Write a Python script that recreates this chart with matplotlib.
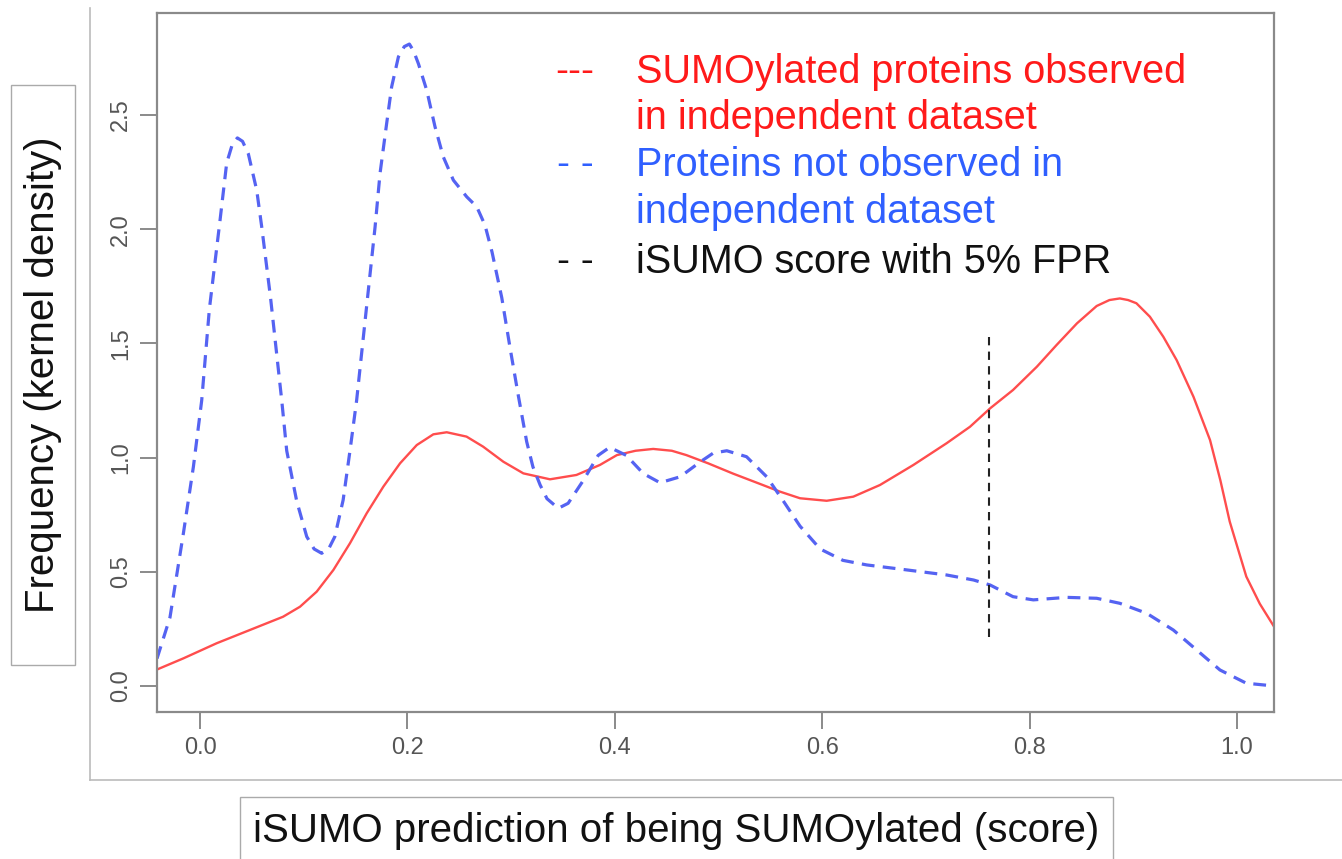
import matplotlib
matplotlib.use("Agg")
from matplotlib import pyplot as plt
from matplotlib.lines import Line2D
from matplotlib.patches import Rectangle

# density curves (score, density)
not_obs_x = [-0.0415, -0.029, -0.016, -0.0064, 0.0016, 0.009, 0.0193, 0.0257, 0.031, 0.036,
             0.041, 0.0466, 0.0547, 0.0595, 0.068, 0.0788, 0.0836, 0.0932, 0.1029, 0.110,
             0.1173, 0.124, 0.130, 0.138, 0.1446, 0.151, 0.162, 0.1688, 0.1736, 0.180,
             0.1848, 0.1913, 0.197, 0.2019, 0.206, 0.2106, 0.2186, 0.2266, 0.2346, 0.2443,
             0.2572, 0.2668, 0.2748, 0.2816, 0.291, 0.299, 0.307, 0.315, 0.321, 0.328,
             0.3346, 0.3455, 0.355, 0.3696, 0.384, 0.395, 0.411, 0.4275, 0.4436, 0.463,
             0.482, 0.495, 0.508, 0.527, 0.5465, 0.5625, 0.5786, 0.598, 0.62, 0.643,
             0.675, 0.72, 0.746, 0.762, 0.784, 0.8036, 0.8357, 0.8647, 0.887, 0.913,
             0.9386, 0.961, 0.9836, 1.009, 1.0357]
not_obs_y = [0.12, 0.30, 0.67, 0.96, 1.25, 1.65, 2.04, 2.29, 2.37, 2.40,
             2.385, 2.33, 2.17, 2.01, 1.70, 1.25, 1.03, 0.81, 0.654, 0.60,
             0.581, 0.60, 0.654, 0.814, 1.03, 1.25, 1.72, 2.01, 2.245, 2.464,
             2.624, 2.755, 2.80, 2.811, 2.78, 2.725, 2.609, 2.449, 2.317, 2.215,
             2.142, 2.099, 2.018, 1.90, 1.70, 1.48, 1.27, 1.07, 0.96, 0.88,
             0.82, 0.778, 0.80, 0.90, 1.01, 1.045, 1.01, 0.93, 0.89, 0.916,
             0.98, 1.02, 1.03, 1.004, 0.916, 0.81, 0.70, 0.60, 0.55, 0.53,
             0.512, 0.486, 0.464, 0.442, 0.391, 0.377, 0.388, 0.384, 0.362, 0.318,
             0.245, 0.158, 0.07, 0.012, 0.0]

sumo_x = [-0.0415, -0.016, 0.016, 0.048, 0.080, 0.0964, 0.1125, 0.1286, 0.1446, 0.1607,
          0.1768, 0.1929, 0.209, 0.225, 0.2379, 0.257, 0.273, 0.2925, 0.3118, 0.3375,
          0.363, 0.3857, 0.402, 0.42, 0.437, 0.455, 0.469, 0.49, 0.514, 0.537,
          0.5593, 0.5786, 0.6043, 0.630, 0.6557, 0.688, 0.720, 0.7425, 0.762, 0.784,
          0.807, 0.826, 0.8457, 0.8647, 0.877, 0.887, 0.895, 0.903, 0.916, 0.929,
          0.9418, 0.958, 0.974, 0.984, 0.993, 1.009, 1.022, 1.0357]
sumo_y = [0.072, 0.121, 0.187, 0.245, 0.303, 0.347, 0.413, 0.508, 0.625, 0.756,
          0.873, 0.975, 1.055, 1.102, 1.111, 1.092, 1.048, 0.982, 0.931, 0.905,
          0.924, 0.968, 1.011, 1.03, 1.038, 1.03, 1.011, 0.975, 0.93, 0.89,
          0.851, 0.822, 0.811, 0.829, 0.880, 0.968, 1.063, 1.135, 1.216, 1.296,
          1.398, 1.493, 1.588, 1.664, 1.69, 1.697, 1.69, 1.676, 1.617, 1.529,
          1.427, 1.267, 1.077, 0.90, 0.72, 0.479, 0.36, 0.26]

cutoff_x = 0.761
cutoff_y = [0.216, 1.551]

xticks = [0.0, 0.2, 0.4, 0.6, 0.8, 1.0]
yticks = [0.0, 0.5, 1.0, 1.5, 2.0, 2.5]

legend_text = ["SUMOylated proteins observed", "in independent dataset",
               "Proteins not observed in", "independent dataset",
               "iSUMO score with 5% FPR"]
legend_marks = ["---", "", "- -", "", "- -"]
legend_colors = ["#ff1a1a", "#ff1a1a", "#2f5fff", "#2f5fff", "#111111"]

W, H = 1342, 859
plt.rcParams['font.family'] = ['Liberation Sans', 'DejaVu Sans']

fig = plt.figure(figsize=(W / 100, H / 100), dpi=100)


def fx(px):
    return px / W


def fy(py):
    return 1 - py / H


ax = fig.add_axes([fx(157), fy(712), fx(1274) - fx(157), fy(13) - fy(712)])
ax.plot(sumo_x, sumo_y, color="#ff4d4d", lw=1.7)
ax.plot(not_obs_x, not_obs_y, color="#5563f2", lw=2.3, dashes=(4, 2.6))
ax.plot([cutoff_x, cutoff_x], cutoff_y, color="#222222", lw=1.5, dashes=(4, 3))

ax.set_xlim(-0.0415, 1.0357)
ax.set_ylim(-0.114, 2.947)
ax.set_xticks(xticks)
ax.set_xticklabels([f"{v:.1f}" for v in xticks])
ax.set_yticks(yticks)
ax.set_yticklabels([f"{v:.1f}" for v in yticks], rotation=90, va="center")
ax.tick_params(length=12, width=1.2, color="#777777", labelsize=17,
               labelcolor="#555555", pad=6)
for s in ax.spines.values():
    s.set_color("#8a8a8a")
    s.set_linewidth(1.6)

# legend written as coloured text
ys = [72, 118, 165, 212, 262]
for mark, txt, col, py in zip(legend_marks, legend_text, legend_colors, ys):
    if mark:
        fig.text(fx(575), fy(py), mark, color=col, fontsize=28, ha="center", va="center")
    fig.text(fx(636), fy(py), txt, color=col, fontsize=28.5, ha="left", va="center")

# outer frame
fig.add_artist(Line2D([fx(90), fx(90)], [fy(8), fy(780)], color="#bbbbbb", lw=1.2))
fig.add_artist(Line2D([fx(90), fx(1342)], [fy(780), fy(780)], color="#bbbbbb", lw=1.2))

# boxed axis titles
fig.add_artist(Rectangle((fx(11), fy(665)), fx(75) - fx(11), fy(85) - fy(665),
                         fill=False, ec="#aaaaaa", lw=1.0))
fig.text(fx(43), fy(375), "Frequency (kernel density)", rotation=90, fontsize=29,
         ha="center", va="center", color="#111111")
fig.add_artist(Rectangle((fx(240), fy(875)), fx(1113) - fx(240), fy(797) - fy(875),
                         fill=False, ec="#aaaaaa", lw=1.0))
fig.text(fx(676), fy(831), "iSUMO prediction of being SUMOylated (score)", fontsize=29,
         ha="center", va="center", color="#111111")

fig.savefig("out.png", dpi=100)
